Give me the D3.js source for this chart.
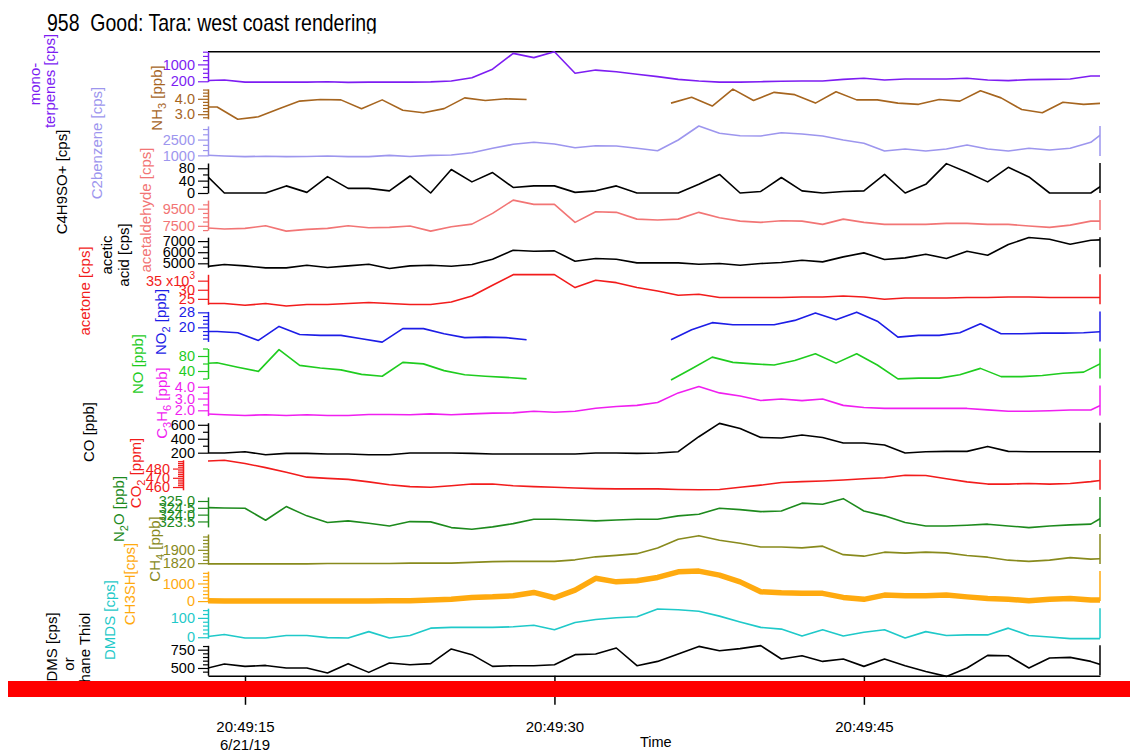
<!DOCTYPE html>
<html>
<head>
<meta charset="utf-8">
<script src="https://cdn.jsdelivr.net/npm/d3@7"></script>
<style>
	body { margin: 0; background: #fff; }
	svg { display: block; font-family: "Liberation Sans", Arial, Helvetica, sans-serif; }
</style>
</head>
<body>
<svg id="chart" width="1130" height="755"></svg>
<script>

// time base, seconds after 20:49:00 on 6/21/19 (1 Hz)
const secs = d3.range(13, 58);
// NH3 / NOx analyser logs slightly earlier in each second
const secsGas = secs.map(s => +(s - 0.35).toFixed(2));

const timeTicks = [15, 30, 45];
const timeTickLabels = ["20:49:15", "20:49:30", "20:49:45"];
const dateLabel = "6/21/19";

// series values
const monoterpenes = [230,260,160,160,160,160,180,150,160,160, 160,170,210,370,770,1520,1320,1600,580,730,
	650,530,420,290,210,160,160,180,200,210, 210,290,340,260,310,310,310,340,260,230, 280,290,310,450,450];
const nh3 = [3.47,3.47,2.67,2.83,3.36,3.85,3.95,3.93,3.36,3.93, 3.26,3.09,3.36,4.06,3.89,4.00,3.95,
	null,null,null,null,null,null,
	3.72,4.10,3.53,4.63,3.89,4.42,4.27,3.72,4.46,3.93, 3.93,3.72,3.64,3.95,3.85,4.52,4.06,3.30,3.09,3.78, 3.64,3.72];
const c2benzene = [1030,940,880,920,880,900,940,880,880,1000, 900,1000,1030,1250,1670,2050,2240,2080,1730,1920,
	1890,1670,1440,2460,3790,3100,2870,2840,3150,3030, 2840,2460,2150,1420,1600,1420,1600,1990,1600,1420, 1670,1510,1670,2240,3740];
const c4h9so = [66,0,0,0,23,2,53,15,15,7, 55,0,76,36,66,18,23,23,2,7,
	23,0,0,0,28,60,0,5,50,7, 0,5,7,60,0,28,95,67,36,83, 52,0,0,0,45];
const acetaldehyde = [7270,7120,7200,7500,6880,7080,7200,7500,7270,7320, 7470,6880,7390,7700,8950,10500,10000,10000,7900,9140,
	9070,8280,8170,8280,9070,8440,8050,7900,8090,8050, 7670,8280,7900,7670,7670,7670,7780,7780,7670,7670, 7470,7320,7580,8050,8050];
const aceticAcid = [4680,4890,4770,4590,4590,4830,4620,4770,4920,4530, 4770,4830,4740,4890,5370,6180,6090,6120,5190,5430,
	5370,5040,5040,5040,4920,4980,4830,4980,5070,5280, 5130,5580,5940,5340,5490,5820,5430,6090,5730,6690, 7320,7170,6720,7080,7150];
const acetone = [22400,22400,21450,22400,21100,21850,21850,22400,22950,22400, 21850,21850,23300,26600,32450,38300,38300,38300,31200,35200,
	33900,31200,29300,26950,27500,25700,25700,25700,25700,26000, 26000,26600,26000,24750,25500,25500,25500,25700,25700,26000, 26000,25700,25700,25700,25700];
const no2 = [17.8,17.8,17.1,13.0,20.5,16.2,15.7,15.7,13.9,12.1, 19.3,19.3,16.6,14.5,14.8,14.5,13.4,
	null,null,null,null,null,null,
	13.4,18.7,22.5,21.4,21.4,21.4,23.7,27.6,24.1,28.1, 23.3,14.8,15.7,15.7,17.1,21.9,16.6,16.6,16.9,16.9, 17.1,17.8];
const no = [59,62,50,39,97,55,48,43,31,26, 63,59,41,30,26,23,19,
	null,null,null,null,null,null,
	16,46,77,63,59,56,68,86,61,86, 56,19,21,21,30,47,25,25,28,34, 37,65];
const c3h6 = [1.70,1.62,1.56,1.62,1.56,1.62,1.56,1.56,1.64,1.64, 1.62,1.70,1.62,1.70,1.76,1.78,1.92,1.84,1.92,2.18,
	2.32,2.42,2.66,3.48,4.02,3.48,3.22,2.84,2.96,2.82, 2.96,2.42,2.24,2.16,2.16,2.16,2.16,2.16,2.04,1.92, 1.92,1.96,2.02,2.02,2.87];
const co = [196,196,214,171,190,190,181,181,171,171, 196,196,196,190,181,181,181,181,181,196,
	196,190,196,214,429,620,548,419,411,454, 419,339,339,310,196,214,219,219,290,219, 214,214,214,214,214];
const co2 = [488,489,485.5,481,476,470.7,469.4,468.3,465.6,462.5, 460.4,459.7,461.4,463.2,463.2,461.4,460.4,459.7,459,458.3,
	458,458,458,457.3,457,457.3,459.7,462.1,464.9,465.9, 466.6,467.6,469,470.1,472.8,472.5,469,465.6,463.2,463.2, 463.9,463.2,463.9,465.9,468.5];
const n2o = [324.52,324.49,324.47,323.59,324.59,323.91,323.42,323.54,323.37,323.17, 323.49,323.47,323.05,322.93,323.10,323.34,323.66,323.66,323.61,323.54,
	323.61,323.66,323.66,323.91,324.03,324.47,324.37,324.22,324.27,324.84, 324.76,325.17,324.27,323.91,323.42,323.17,323.17,323.22,323.30,323.17, 323.05,323.17,323.25,323.30,324.20];
const ch4 = [1816,1816,1816,1816,1816,1816,1818,1818,1818,1818, 1820,1820,1820,1825,1829,1831,1831,1831,1840,1858,
	1867,1877,1911,1963,1985,1957,1939,1917,1917,1912, 1922,1871,1862,1886,1880,1886,1882,1866,1856,1838, 1831,1838,1853,1844,1850];
const ch3sh = [20,0,0,0,0,0,0,0,0,20, 20,60,100,210,240,300,490,190,620,1290,
	1090,1150,1340,1660,1700,1470,1090,530,470,440, 440,210,100,340,300,300,340,240,150,100, 20,100,150,60,60];
const dmds = [1,14,-4,-4,9,9,-2,-4,29,-4, 9,47,51,51,51,54,62,39,76,92,
	101,106,146,142,134,109,79,51,42,6, 39,6,26,39,-4,29,9,12,12,47, 9,1,-7,-7,-7];
const dms = [486,554,522,535,500,500,431,559,440,568, 545,559,760,682,522,531,531,545,682,691,
	773,531,590,691,795,736,764,805,623,668, 590,623,522,623,531,453,385,500,672,668, 500,636,645,590,500];

const f1 = d3.format(".1f");

// one stacked panel per trace, top to bottom
const panels = [
	{ values: monoterpenes, times: secs, color: "#7d1df2", domain: [180, 1600], major: [200, 1000], minor: [400, 600, 800, 1200, 1400, 1600], right: false },
	{ values: nh3, times: secsGas, color: "#a6651f", domain: [2.7, 4.65], major: [3, 4], minor: [2.8, 3.2, 3.4, 3.6, 3.8, 4.2, 4.4, 4.6], fmt: f1, right: false },
	{ values: c2benzene, times: secs, color: "#9d96ee", domain: [950, 3800], major: [1000, 2500], minor: [1500, 2000, 3000, 3500] },
	{ values: c4h9so, times: secs, color: "#000", domain: [0, 97], major: [0, 40, 80], minor: [20, 60] },
	{ values: acetaldehyde, times: secs, color: "#f27575", domain: [7000, 10500], major: [7500, 9500], minor: [7000, 8000, 8500, 9000, 10000] },
	{ values: aceticAcid, times: secs, color: "#000", domain: [4650, 7350], major: [5000, 6000, 7000], minor: [5500, 6500] },
	{ values: acetone, times: secs, color: "#f21c1c", domain: [22000, 38500], major: [25000, 30000, 35000], minor: [], fmt: d => d / 1000, exponent: 35000 },
	{ values: no2, times: secsGas, color: "#1d1de6", domain: [12.5, 28.5], major: [20, 28], minor: [14, 16, 18, 22, 24, 26] },
	{ values: no, times: secsGas, color: "#1fcc1f", domain: [20, 100], major: [40, 80], minor: [20, 60, 100] },
	{ values: c3h6, times: secs, color: "#f01ff0", domain: [1.55, 4.1], major: [2, 3, 4], minor: [2.5, 3.5], fmt: f1 },
	{ values: co, times: secs, color: "#000", domain: [200, 630], major: [200, 400, 600], minor: [300, 500] },
	{ values: co2, times: secs, color: "#f21c1c", domain: [457, 489.5], major: [460, 470, 480], minor: [462, 464, 466, 468, 472, 474, 476, 478, 482, 484, 486, 488], axisX: 183 },
	{ values: n2o, times: secs, color: "#1d8a1d", domain: [323.1, 325.3], major: [323.5, 324, 324.5, 325], minor: [], fmt: f1 },
	{ values: ch4, times: secs, color: "#888a1d", domain: [1815, 1995], major: [1820, 1900], minor: [1840, 1860, 1880, 1920, 1940, 1960, 1980] },
	{ values: ch3sh, times: secs, color: "#ffaa0f", domain: [0, 1700], major: [0, 1000], minor: [200, 400, 600, 800, 1200, 1400, 1600], width: 5.5 },
	{ values: dmds, times: secs, color: "#1fc9c9", domain: [-5, 150], major: [0, 100], minor: [20, 40, 60, 80, 120, 140] },
	{ values: dms, times: secs, color: "#000", domain: [400, 810], major: [500, 750], minor: [450, 550, 600, 650, 700, 800] }
];

// rotated axis titles: [text parts ([string, isSub]), x, y, colour]
const labels = [
	[[["mono-", 0]], 34, 84, "#7d1df2"],
	[[["terpenes [cps]", 0]], 49, 81, "#7d1df2"],
	[[["C4H9SO+ [cps]", 0]], 61, 182, "#000"],
	[[["C2benzene [cps]", 0]], 96, 143, "#9d96ee"],
	[[["NH", 0], ["3", 1], [" [ppb]", 0]], 156, 98, "#a6651f"],
	[[["acetaldehyde [cps]", 0]], 145, 210, "#f27575"],
	[[["acetic", 0]], 106, 255, "#000"],
	[[["acid [cps]", 0]], 123, 255, "#000"],
	[[["acetone [cps]", 0]], 84, 291, "#f21c1c"],
	[[["NO", 0], ["2", 1], [" [ppb]", 0]], 160, 322, "#1d1de6"],
	[[["NO [ppb]", 0]], 137, 364, "#1fcc1f"],
	[[["C", 0], ["3", 1], ["H", 0], ["6", 1], [" [ppb]", 0]], 161, 403, "#f01ff0"],
	[[["CO [ppb]", 0]], 88, 432, "#000"],
	[[["CO", 0], ["2", 1], [" [ppm]", 0]], 135, 473, "#f21c1c"],
	[[["N", 0], ["2", 1], ["O [ppb]", 0]], 118, 509, "#1d8a1d"],
	[[["CH", 0], ["4", 1], [" [ppb]", 0]], 154, 549, "#888a1d"],
	[[["CH3SH[cps]", 0]], 129, 584, "#ffaa0f"],
	[[["DMDS [cps]", 0]], 109, 620, "#1fc9c9"],
	[[["DMS [cps]", 0]], 51, 647, "#000"],
	[[["or", 0]], 68, 664, "#000"],
	[[["Methane Thiol", 0]], 84, 660, "#000"]
];

const svg = d3.select("#chart");
const plotLeft = 208, plotRight = 1100;
const panelTop = 51.7, panelStep = 37.1, panelH = 30;
const xBottom = panelTop + (panels.length - 1) * panelStep + panelH + 0.5;

const x = d3.scaleLinear().domain([13.207, 56.445]).range([plotLeft, plotRight]);

const defs = svg.append("defs");
defs.append("clipPath").attr("id", "plot-clip")
	.append("rect").attr("x", plotLeft).attr("y", 0).attr("width", plotRight - plotLeft).attr("height", 755);
defs.append("clipPath").attr("id", "label-clip")
	.append("rect").attr("x", 0).attr("y", 0).attr("width", plotLeft).attr("height", 681);
defs.append("clipPath").attr("id", "title-clip")
	.append("rect").attr("x", 0).attr("y", 0).attr("width", 600).attr("height", 33.5);

// title (the original is a little taller than wide)
svg.append("g").attr("clip-path", "url(#title-clip)")
	.append("text")
	.attr("transform", "translate(47,31) scale(1,1.2)")
	.attr("font-size", 19.5)
	.style("white-space", "pre")
	.text("958  Good: Tara: west coast rendering");

// top frame line
svg.append("line")
	.attr("x1", plotLeft).attr("x2", plotRight)
	.attr("y1", panelTop).attr("y2", panelTop)
	.attr("stroke", "#000").attr("stroke-width", 1.5);

const lineLayer = svg.append("g").attr("clip-path", "url(#plot-clip)");
const axisLayer = svg.append("g");

panels.forEach((p, i) => {
	const top = panelTop + i * panelStep;
	const y = d3.scaleLinear().domain(p.domain).range([top + panelH, top]);
	const ax = p.axisX || plotLeft;
	const pts = p.times.map((t, k) => ({ t: t, v: p.values[k] }));

	const line = d3.line()
		.defined(d => d.v != null)
		.x(d => x(d.t))
		.y(d => y(d.v));

	lineLayer.append("path")
		.datum(pts)
		.attr("d", line)
		.attr("fill", "none")
		.attr("stroke", p.color)
		.attr("stroke-width", p.width || 1.6)
		.attr("stroke-linejoin", "round");

	// minor ticks
	axisLayer.append("g")
		.attr("transform", "translate(" + ax + ",0)")
		.attr("color", p.color)
		.call(d3.axisLeft(y).tickValues(p.minor).tickSize(5).tickFormat(""))
		.call(g => g.select(".domain").remove())
		.call(g => g.selectAll(".tick line").attr("stroke-width", 1.2));

	// major ticks + labels
	const g = axisLayer.append("g")
		.attr("transform", "translate(" + ax + ",0)")
		.attr("color", p.color)
		.call(d3.axisLeft(y).tickValues(p.major).tickSize(10).tickSizeOuter(0).tickPadding(3)
			.tickFormat(p.fmt || (d => d)))
		.attr("font-size", 14.5)
		.attr("font-family", null);
	g.select(".domain").attr("stroke-width", 1.5);
	g.selectAll(".tick line").attr("stroke-width", 1.2);
	if (p.exponent) {
		g.selectAll(".tick text").filter(d => d === p.exponent)
			.text(d => (p.fmt(d)) + " x10")
			.append("tspan").attr("dy", -7).attr("font-size", 10).text("3");
	}

	// right-hand axis stub
	if (p.right !== false) {
		axisLayer.append("line")
			.attr("x1", plotRight).attr("x2", plotRight)
			.attr("y1", y.range()[1]).attr("y2", y.range()[0])
			.attr("stroke", p.color).attr("stroke-width", 1.5);
	}
});

// bottom time axis
const xg = svg.append("g")
	.attr("transform", "translate(0," + xBottom + ")")
	.call(d3.axisBottom(x).tickValues(timeTicks).tickSize(29).tickSizeOuter(0).tickPadding(17)
		.tickFormat((d, i) => timeTickLabels[i]))
	.attr("font-size", 15)
	.attr("font-family", null);
xg.select(".domain").attr("stroke-width", 1.5);
xg.selectAll(".tick line").attr("stroke-width", 1.5);

svg.append("text")
	.attr("x", x(timeTicks[0])).attr("y", 750)
	.attr("text-anchor", "middle").attr("font-size", 15)
	.text(dateLabel);

svg.append("text")
	.attr("x", 640).attr("y", 747)
	.attr("font-size", 14.5)
	.text("Time");

// rotated axis titles
const labelLayer = svg.append("g").attr("clip-path", "url(#label-clip)");
labels.forEach(([parts, lx, ly, color]) => {
	const t = labelLayer.append("text")
		.attr("transform", "translate(" + lx + "," + ly + ") rotate(-90)")
		.attr("text-anchor", "middle")
		.attr("dominant-baseline", "central")
		.attr("font-size", 15)
		.attr("fill", color);
	parts.forEach(([s, sub]) => {
		const ts = t.append("tspan").text(s);
		if (sub) ts.attr("font-size", 11).attr("baseline-shift", "sub");
	});
});

// red marker bar across the bottom
svg.append("rect")
	.attr("x", 8).attr("y", 681)
	.attr("width", 1122).attr("height", 16)
	.attr("fill", "#ff0000");

</script>
</body>
</html>
